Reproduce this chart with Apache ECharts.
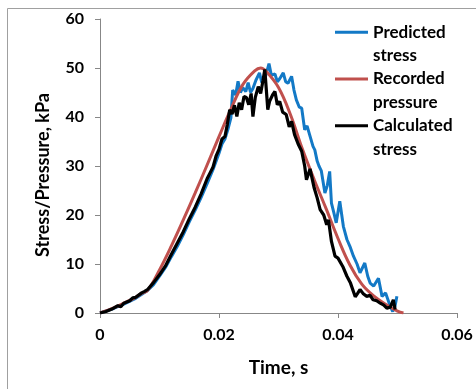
<!DOCTYPE html>
<html>
<head>
<meta charset="utf-8">
<script src="https://cdn.jsdelivr.net/npm/echarts@6/dist/echarts.min.js"></script>
<style>html,body{margin:0;padding:0;background:#fff}#c{width:476px;height:389px}</style>
</head>
<body>
<div id="c"></div>
<script>
var xTicks = [0, 0.02, 0.04, 0.06];
var yTicks = [0, 10, 20, 30, 40, 50, 60];
var seriesNames = ['Predicted stress', 'Recorded pressure', 'Calculated stress'];

var timePredicted = [0,0.002,0.004,0.006,0.008,0.009,0.010,0.011,0.012,0.013,0.014,0.015,0.016,0.017,0.018,0.019,0.020,0.0205,0.021,0.0215,0.022,0.0223,0.0228,0.0232,0.0236,0.024,0.0245,0.0249,0.0253,0.0257,0.0262,0.0268,0.0272,0.0277,0.0281,0.0284,0.0288,0.0294,0.0298,0.0302,0.0308,0.0312,0.0316,0.0322,0.0326,0.033,0.0335,0.0339,0.0344,0.0348,0.0352,0.0358,0.0361,0.0365,0.0368,0.0372,0.0378,0.0382,0.0386,0.0389,0.0393,0.0397,0.0403,0.0409,0.0415,0.0420,0.0426,0.0432,0.0437,0.0445,0.0450,0.0454,0.0460,0.0468,0.0474,0.0480,0.0488,0.0492,0.0496,0.0499];
var predicted = [0,0.8,1.8,3.0,4.6,5.8,7.5,9.3,11.5,13.6,16,18.6,21,23.6,26.4,29.3,32.6,34.5,35.5,37.5,39.8,45.5,44.5,47.3,45,46,45.2,47,45,45.8,47.5,49,47,47.8,49.5,50.9,48.5,48.8,47.2,47.8,49,47.2,46.9,48.3,45.5,43.5,42,41.8,37.4,38.2,36.5,34,33.3,31,30,29,24.5,26,28.9,22.4,20.5,18.4,22.8,17.7,15,13.6,11.6,10,8.2,10.2,7.5,6.1,5.5,7.1,3.4,4.1,1.3,0.3,1.5,3.4];

var timeRecorded = [0,0.002,0.004,0.006,0.007,0.008,0.010,0.012,0.014,0.016,0.018,0.020,0.022,0.024,0.026,0.027,0.028,0.030,0.032,0.034,0.036,0.038,0.040,0.042,0.044,0.046,0.048,0.050,0.051];
var recorded = [0,0.9,2.0,3.2,4.0,4.6,8.8,13.7,19,24.5,30.2,36,41.6,46.6,49.4,50,49.2,46,40.5,33.5,27.2,21.3,15.2,9.8,5.9,3.5,1.8,0.4,0];

var timeCalculated = [0,0.001,0.002,0.003,0.0035,0.004,0.005,0.0055,0.006,0.007,0.0075,0.008,0.009,0.010,0.011,0.012,0.013,0.014,0.015,0.016,0.017,0.018,0.0185,0.019,0.0195,0.020,0.0205,0.021,0.0214,0.0218,0.0222,0.0226,0.023,0.0234,0.0238,0.0242,0.0246,0.025,0.0254,0.0257,0.0261,0.0266,0.027,0.0274,0.0277,0.0282,0.0285,0.0290,0.0294,0.0298,0.0302,0.0307,0.0313,0.0318,0.0322,0.0327,0.0333,0.0339,0.0344,0.0347,0.035,0.0353,0.0356,0.0360,0.0365,0.037,0.0376,0.0381,0.0384,0.0389,0.0395,0.0400,0.0403,0.0408,0.0415,0.0421,0.0429,0.0433,0.0437,0.0442,0.0448,0.0454,0.0459,0.0465,0.0471,0.0477,0.0482,0.0488,0.0493,0.0496];
var calculated = [0,0.3,0.8,1.5,1.3,2,2.5,3.1,3.2,4.1,4.4,4.8,6.2,7.8,9.6,12,14.3,16.6,19.2,21.6,24.3,27.4,28.6,29.8,32,33.4,35.5,36,38.5,41.5,40.6,42.4,40.1,42.9,41.5,44.2,44,42.5,44.8,40.1,44,46.2,44.8,47.5,49.7,41.5,43.2,44.5,45.2,42.5,43.2,41,40.5,38,39.1,36.4,34.5,33,30,27.2,26.9,29.4,29.6,25.5,23.5,21.1,20,18,19,14.6,11.6,11.2,10.9,9.5,7.5,6.1,3.3,4,4.8,4,3.4,3.6,2.7,2.5,2,1.6,1,1.2,2.7,0.7];

function pairs(ts, vs) { return ts.map(function (t, i) { return [t, vs[i]]; }); }

var FONT = 'Lato';
var axisGray = '#878787';
// legend icon: a 3px bar at the top of a taller (invisible) box, so it lines up with the first text line
var legendIcon = 'path://M0,0L33,0L33,3L0,3Z M33,26.5L33,26.5Z';
var chart = echarts.init(document.getElementById('c'), null, {renderer: 'canvas'});
chart.setOption({
  animation: false,
  backgroundColor: '#fff',
  graphic: [{
    type: 'rect', left: 5, top: 6, silent: true,
    shape: {x: 0, y: 0, width: 500, height: 500},
    style: {fill: 'none', stroke: '#a0a0a0', lineWidth: 1}
  }],
  grid: {left: 100, right: 19, top: 19, bottom: 76, containLabel: false},
  legend: {
    orient: 'vertical', left: 335, top: 20.5, padding: 0,
    icon: legendIcon, itemWidth: 33, itemHeight: 26.5, itemGap: -0.3,
    data: seriesNames,
    formatter: function (n) { return n.replace(' ', '\n'); },
    textStyle: {fontFamily: FONT, fontWeight: 'bold', fontSize: 17, color: '#000', lineHeight: 23.5}
  },
  xAxis: {
    type: 'value', min: xTicks[0], max: xTicks[xTicks.length - 1], interval: 0.02,
    name: 'Time, s', nameLocation: 'middle', nameGap: 45,
    nameTextStyle: {fontFamily: FONT, fontWeight: 'bold', fontSize: 19, color: '#000'},
    axisLine: {lineStyle: {color: axisGray, width: 1}},
    axisTick: {show: true, inside: false, length: 5, lineStyle: {color: axisGray}},
    axisLabel: {fontFamily: FONT, fontWeight: 'bold', fontSize: 16, color: '#000', margin: 14,
      formatter: function (v) { return String(v); }},
    splitLine: {show: false}
  },
  yAxis: {
    type: 'value', min: yTicks[0], max: yTicks[yTicks.length - 1], interval: 10,
    name: 'Stress/Pressure, kPa', nameLocation: 'middle', nameGap: 48, nameRotate: 90,
    nameTextStyle: {fontFamily: FONT, fontWeight: 'bold', fontSize: 18, color: '#000', padding: [0, 18, 0, 0]},
    axisLine: {show: true, lineStyle: {color: axisGray, width: 1}},
    axisTick: {show: true, inside: false, length: 5, lineStyle: {color: axisGray}},
    axisLabel: {fontFamily: FONT, fontWeight: 'bold', fontSize: 16, color: '#000', margin: 16},
    splitLine: {show: false}
  },
  series: [
    {name: seriesNames[0], type: 'line', data: pairs(timePredicted, predicted), symbol: 'none',
      lineStyle: {color: '#1379c6', width: 3}, itemStyle: {color: '#1379c6'}},
    {name: seriesNames[1], type: 'line', data: pairs(timeRecorded, recorded), symbol: 'none', smooth: 0.4,
      lineStyle: {color: '#c0504d', width: 3}, itemStyle: {color: '#c0504d'}},
    {name: seriesNames[2], type: 'line', data: pairs(timeCalculated, calculated), symbol: 'none',
      lineStyle: {color: '#000000', width: 3.2}, itemStyle: {color: '#000000'}}
  ]
});
</script>
</body>
</html>
